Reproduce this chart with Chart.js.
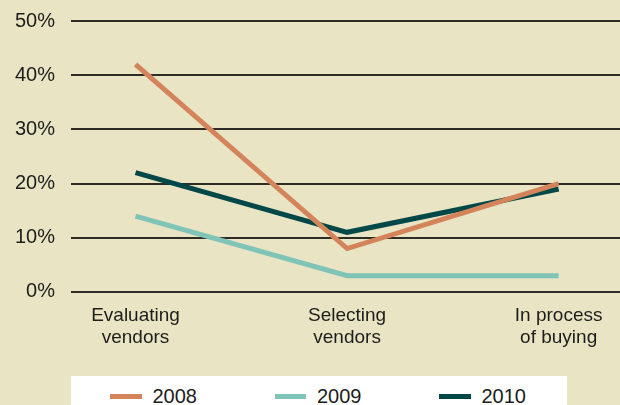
<!DOCTYPE html>
<html>
<head>
<meta charset="utf-8">
<script src="https://cdn.jsdelivr.net/npm/chart.js@4"></script>
<style>
    html, body {
        margin: 0;
        padding: 0;
        background: #e9e4c4;
        overflow: hidden;
    }
    #wrap {
        position: relative;
        width: 620px;
        height: 405px;
    }
    #legendBox {
        position: absolute;
        left: 71px;
        top: 376px;
        width: 496px;
        height: 40px;
        background: #ffffff;
        box-sizing: border-box;
        padding: 10px 0 0 39px;
        font-family: 'Liberation Sans', Arial, sans-serif;
        font-size: 20px;
        line-height: 20px;
        color: #1d1d1b;
    }
    #legendBox ul {
        list-style: none;
        margin: 0;
        padding: 0;
        display: flex;
    }
    #legendBox li {
        display: flex;
        align-items: center;
        flex: 0 0 164.5px;
    }
    #legendBox .swatch {
        display: inline-block;
        width: 31.5px;
        height: 5px;
        margin-right: 11px;
    }
</style>
</head>
<body>
<div id="wrap">
    <canvas id="stageChart" width="620" height="405"></canvas>
    <div id="legendBox"></div>
</div>
<script>
// values (percent)
const stages = [['Evaluating', 'vendors'], ['Selecting', 'vendors'], ['In process', 'of buying']];
const seriesNames = ['2008', '2009', '2010'];
const values2008 = [42, 8, 20];
const values2009 = [14, 3, 3];
const values2010 = [22, 11, 19];
const yTicks = [0, 10, 20, 30, 40, 50];

const colors = ['#d4845a', '#80c4b8', '#004848'];

// builds the white legend strip under the chart from the datasets
const htmlLegend = {
    id: 'htmlLegend',
    afterUpdate(chart) {
        const box = document.getElementById('legendBox');
        if (!box) return;
        box.innerHTML = '';
        const ul = document.createElement('ul');
        chart.data.datasets.forEach(function (ds) {
            const li = document.createElement('li');
            const sw = document.createElement('span');
            sw.className = 'swatch';
            sw.style.background = ds.borderColor;
            const txt = document.createElement('span');
            txt.textContent = ds.label;
            li.appendChild(sw);
            li.appendChild(txt);
            ul.appendChild(li);
        });
        box.appendChild(ul);
    }
};

function toPoints(vals) {
    return vals.map(function (v, i) { return { x: i, y: v }; });
}

const allValues = [values2008, values2009, values2010];

const ctx = document.getElementById('stageChart').getContext('2d');

new Chart(ctx, {
    type: 'line',
    data: {
        datasets: allValues.map(function (vals, i) {
            return {
                label: seriesNames[i],
                data: toPoints(vals),
                borderColor: colors[i],
                backgroundColor: colors[i],
                borderWidth: 5,
                pointRadius: 0,
                pointHoverRadius: 0,
                tension: 0,
                fill: false
            };
        })
    },
    options: {
        responsive: false,
        animation: false,
        layout: {
            padding: { top: 21, right: 0, bottom: 43, left: 0 }
        },
        plugins: {
            legend: { display: false },
            tooltip: { enabled: false }
        },
        scales: {
            x: {
                type: 'linear',
                min: -0.305,
                max: 2.29,
                grid: { display: false, drawTicks: false },
                border: { display: false },
                afterBuildTicks: function (scale) {
                    scale.ticks = stages.map(function (s, i) { return { value: i }; });
                },
                afterFit: function (scale) {
                    scale.paddingLeft = 0;
                    scale.paddingRight = 0;
                },
                ticks: {
                    padding: 13,
                    maxRotation: 0,
                    autoSkip: false,
                    color: '#1d1d1b',
                    font: { size: 19, family: "'Liberation Sans', Arial, sans-serif", lineHeight: 1.16 },
                    callback: function (v) { return stages[v] || ''; }
                }
            },
            y: {
                min: 0,
                max: 50,
                afterFit: function (scale) {
                    scale.width = 71;
                    scale.paddingTop = 0;
                    scale.paddingBottom = 0;
                },
                afterBuildTicks: function (scale) {
                    scale.ticks = yTicks.map(function (v) { return { value: v }; });
                },
                grid: { color: '#2e2c24', lineWidth: 2, drawTicks: false },
                border: { display: false },
                ticks: {
                    padding: 16,
                    color: '#1d1d1b',
                    font: { size: 20, family: "'Liberation Sans', Arial, sans-serif" },
                    callback: function (v) { return v + '%'; }
                }
            }
        }
    },
    plugins: [htmlLegend]
});
</script>
</body>
</html>
